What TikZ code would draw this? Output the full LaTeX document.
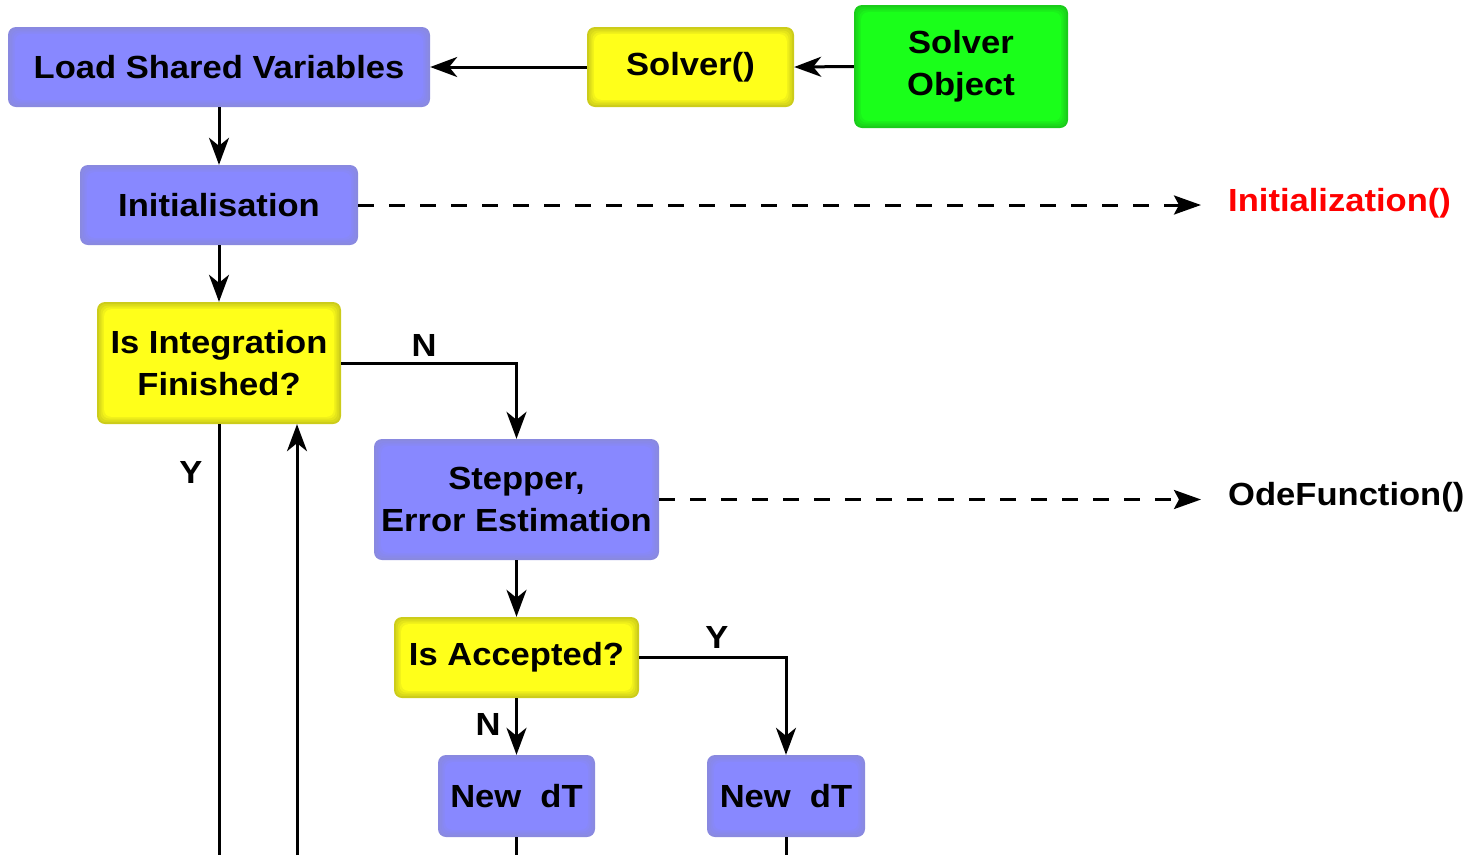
\documentclass[tikz,border=0pt]{standalone}
\usepackage{fontspec}
\setmainfont[FakeStretch=1.08]{Liberation Sans}
\usetikzlibrary{arrows.meta}

\definecolor{blueedge}{RGB}{137,137,224}
\definecolor{bluecore}{RGB}{136,136,255}
\definecolor{yellowedge}{RGB}{204,204,26}
\definecolor{yellowcore}{RGB}{255,255,26}
\definecolor{greenedge}{RGB}{26,204,26}
\definecolor{greencore}{RGB}{26,255,26}
\definecolor{fnred}{RGB}{255,0,0}

\tikzset{
  % rounded box with a soft inner glow from edge colour to core colour
  glowbox/.style n args={2}{
    rounded corners=8pt, inner sep=0pt, fill=#1, align=center,
    font=\bfseries\fontsize{32}{42}\selectfont,
    path picture={
      \foreach \i/\p in {1/25,2/50,3/75,4/100}{
        \fill[#2!\p!#1, rounded corners=7pt]
          ([shift={(\i*1.8pt,-\i*1.8pt)}]path picture bounding box.north west)
          rectangle
          ([shift={(-\i*1.8pt,\i*1.8pt)}]path picture bounding box.south east);
      }
    }
  },
  bluebox/.style={glowbox={blueedge}{bluecore}},
  yellowbox/.style={glowbox={yellowedge}{yellowcore}},
  greenbox/.style={glowbox={greenedge}{greencore}},
  flow/.style={line width=3pt, -{Stealth[length=27pt,width=20pt,inset=8pt]}},
  plain/.style={line width=3pt},
  callflow/.style={line width=3pt, dash pattern=on 15.5pt off 15.5pt,
    -{Stealth[length=27pt,width=19pt,inset=5pt]}},
  lbl/.style={font=\bfseries\fontsize{32}{36}\selectfont, inner sep=0pt},
  fnlabel/.style={font=\bfseries\fontsize{32}{36}\selectfont, inner sep=0pt, anchor=west},
}

\begin{document}
\begin{tikzpicture}[x=1pt,y=-1pt]
\useasboundingbox (0,0) rectangle (1468,855);

% boxes
\node[bluebox, minimum width=422pt, minimum height=80pt] (load) at (219,67) {Load Shared Variables};
\node[yellowbox, minimum width=207pt, minimum height=80pt] (solver) at (690.5,67) {Solver()};
\node[greenbox, minimum width=214pt, minimum height=123pt] (obj) at (961,66.5) {Solver\\Object};
\node[bluebox, minimum width=278pt, minimum height=80pt] (init) at (219,205) {Initialisation};
\node[yellowbox, minimum width=244pt, minimum height=122pt] (isint) at (219,363) {Is Integration\\Finished?};
\node[bluebox, minimum width=285pt, minimum height=121pt] (step) at (516.5,499.5) {Stepper,\\Error Estimation};
\node[yellowbox, minimum width=245pt, minimum height=81pt] (isacc) at (516.5,657.5) {Is Accepted?};
\node[bluebox, minimum width=157pt, minimum height=82pt] (dtn) at (516.5,796) {New~ dT};
\node[bluebox, minimum width=158pt, minimum height=82pt] (dty) at (786,796) {New~ dT};

% called functions
\node[fnlabel, text=fnred] (initfn) at (1228,203) {Initialization()};
\node[fnlabel] (odefn) at (1228,497) {OdeFunction()};

% branch labels
\node[lbl] (nint) at (424,345) {N};
\node[lbl] (yint) at (191,472) {Y};
\node[lbl] (yacc) at (717,637) {Y};
\node[lbl] (nacc) at (488,724) {N};

% loose ends leaving the lower edge
\coordinate (yout) at (219,855);
\coordinate (loopin) at (297,855);
\coordinate (dtnout) at (516.5,855);
\coordinate (dtyout) at (786,855);

% connectors
\draw[flow] (obj.west) -- (solver.east);
\draw[flow] (solver.west) -- (load.east);
\draw[flow] (load.south) -- (init.north);
\draw[flow] (init.south) -- (isint.north);
\draw[callflow, shorten >=27pt] (init.east) -- (init.east -| initfn.west);
\draw[flow] (isint.east) -| (step.north);
\draw[plain] (isint.south) -- (yout);
\draw[flow] (loopin) -- (loopin |- isint.south);
\draw[flow] (step.south) -- (isacc.north);
\draw[callflow, shorten >=27pt] (step.east) -- (step.east -| odefn.west);
\draw[flow] (isacc.east) -| (dty.north);
\draw[flow] (isacc.south) -- (dtn.north);
\draw[plain] (dtn.south) -- (dtnout);
\draw[plain] (dty.south) -- (dtyout);
\end{tikzpicture}
\end{document}
